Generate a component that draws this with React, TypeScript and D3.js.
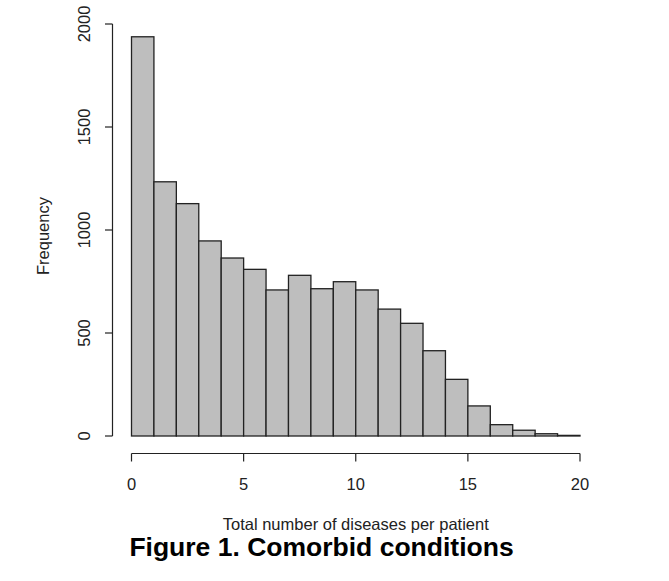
import React from "react";
import * as d3 from "d3";

const binStarts = [0, 1, 2, 3, 4, 5, 6, 7, 8, 9, 10, 11, 12, 13, 14, 15, 16, 17, 18, 19];
const frequencies = [1938, 1234, 1128, 947, 864, 809, 709, 780, 715, 749, 709, 616, 547, 414, 275, 146, 55, 28, 11, 3];
const xTicks = [0, 5, 10, 15, 20];
const yTicks = [0, 500, 1000, 1500, 2000];
const xLabel = "Total number of diseases per patient";
const yLabel = "Frequency";
const title = "Figure 1. Comorbid conditions";

export default function App() {
  const W = 669, H = 581;
  const x = d3.scaleLinear().domain([0, 20]).range([131.5, 580]);
  const y = d3.scaleLinear().domain([0, 2000]).range([436, 24]);
  const axisColor = "#222";
  const font = "Liberation Sans, Arial, sans-serif";
  const yAxisX = 112.5;
  const xAxisY = 453.5;
  return (
    <svg width={W} height={H} style={{ position: "absolute", left: 0, top: 0, background: "#fff" }}>
      {binStarts.map((b, i) => (
        <rect
          key={i}
          x={x(b)}
          y={y(frequencies[i])}
          width={x(b + 1) - x(b)}
          height={y(0) - y(frequencies[i])}
          fill="#bebebe"
          stroke="#222"
          strokeWidth={1.3}
        />
      ))}
      {/* y axis */}
      <line x1={yAxisX} x2={yAxisX} y1={y(0)} y2={y(2000)} stroke={axisColor} strokeWidth={1.2} />
      {yTicks.map((t) => (
        <g key={t}>
          <line x1={yAxisX - 7.5} x2={yAxisX} y1={y(t)} y2={y(t)} stroke={axisColor} strokeWidth={1.2} />
          <text
            transform={`translate(90,${y(t)}) rotate(-90)`}
            textAnchor="middle"
            fontFamily={font}
            fontSize={16.5}
            fill="#222"
          >
            {t}
          </text>
        </g>
      ))}
      {/* x axis */}
      <line x1={x(0)} x2={x(20)} y1={xAxisY} y2={xAxisY} stroke={axisColor} strokeWidth={1.2} />
      {xTicks.map((t) => (
        <g key={t}>
          <line x1={x(t)} x2={x(t)} y1={xAxisY} y2={xAxisY + 8} stroke={axisColor} strokeWidth={1.2} />
          <text x={x(t)} y={489.5} textAnchor="middle" fontFamily={font} fontSize={16.5} fill="#222">
            {t}
          </text>
        </g>
      ))}
      <text x={(x(0) + x(20)) / 2} y={530} textAnchor="middle" fontFamily={font} fontSize={16.5} fill="#222">
        {xLabel}
      </text>
      <text
        transform={`translate(49,${236}) rotate(-90)`}
        textAnchor="middle"
        fontFamily={font}
        fontSize={16.5}
        fill="#222"
      >
        {yLabel}
      </text>
      <text x={321.5} y={556} textAnchor="middle" fontFamily={font} fontWeight="bold" fontSize={26.5} fill="#000">
        {title}
      </text>
    </svg>
  );
}
